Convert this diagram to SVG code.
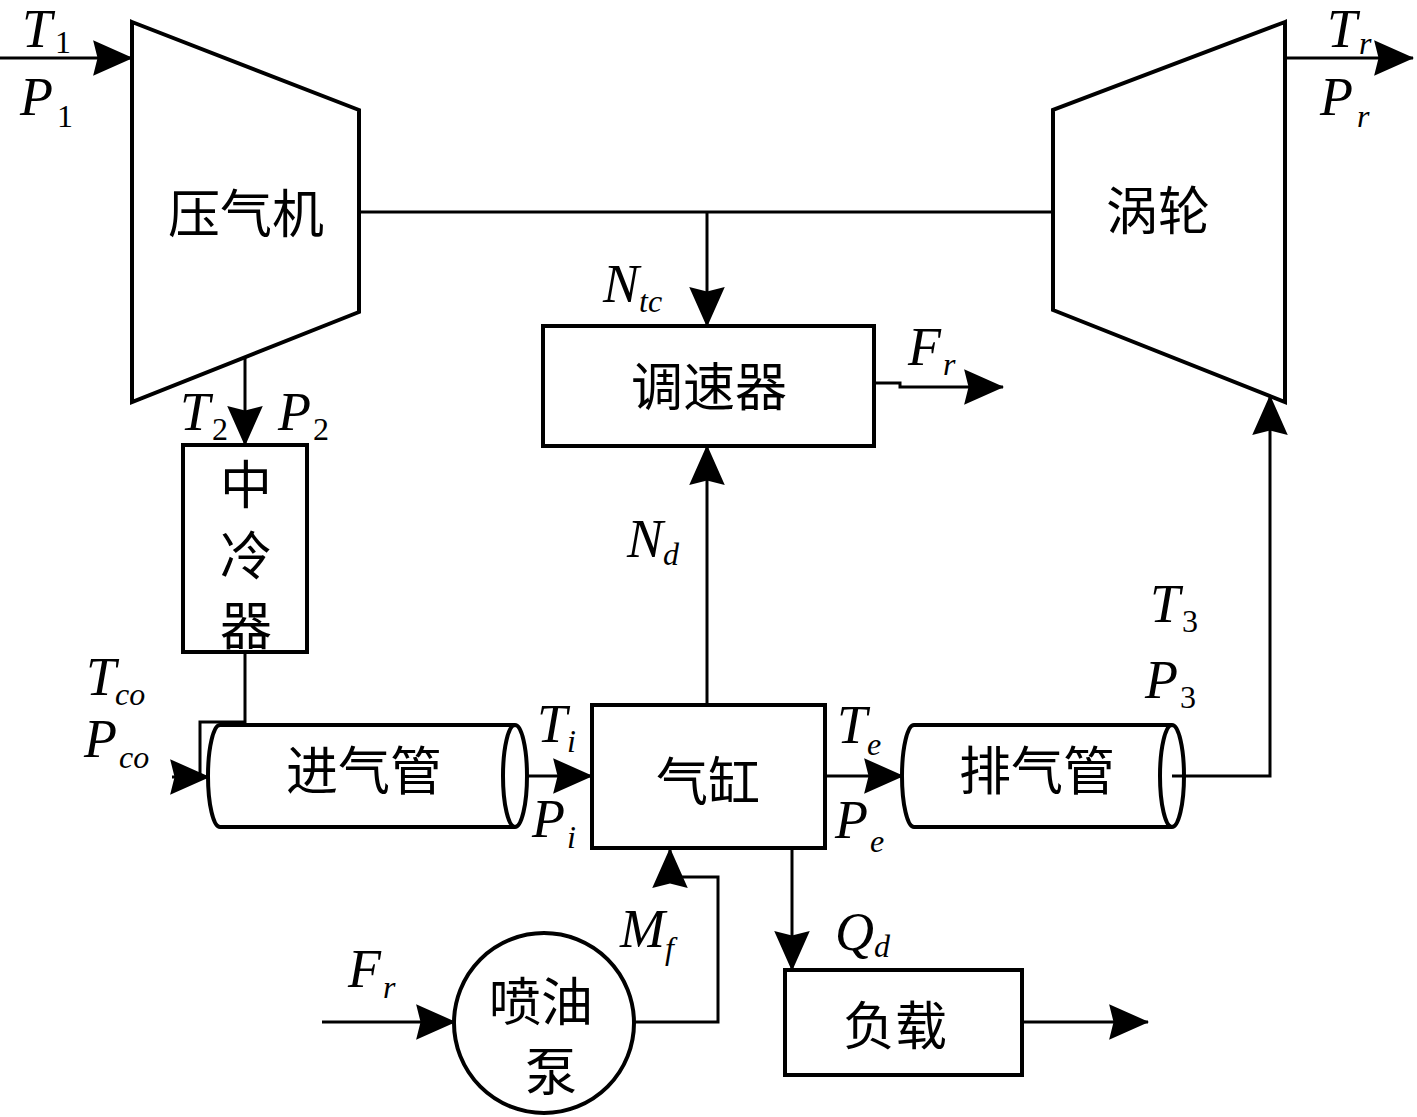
<svg xmlns="http://www.w3.org/2000/svg" width="1417" height="1117" viewBox="0 0 1417 1117">
<style>
.box{fill:none;stroke:#000;stroke-width:4;stroke-linejoin:miter}
.ln{fill:none;stroke:#000;stroke-width:3}
.cn{font-family:"Noto Sans CJK SC","Noto Sans CJK JP",sans-serif;font-size:52px;fill:#000;text-anchor:middle;dominant-baseline:central}
.v{font-family:"Liberation Serif","Times New Roman",serif;font-size:54px;font-style:italic;fill:#000}
.s{font-size:32px;font-style:normal}
.si{font-size:32px;font-style:italic}
</style>
<defs>
<marker id="ah" markerUnits="userSpaceOnUse" markerWidth="40" markerHeight="36" viewBox="0 0 36 32" refX="35" refY="16" orient="auto">
<path d="M0,0 L36,16 L0,32 L4,16 Z" fill="#000"/>
</marker>
</defs>
<rect width="1417" height="1117" fill="#fff"/>

<g id="compressor">
<polygon class="box" points="132,22 359,110 359,312 132,402"/>
<text class="cn" x="246" y="210">压气机</text>
</g>

<g id="turbine">
<polygon class="box" points="1285,22 1053,110 1053,310 1285,402"/>
<text class="cn" x="1158" y="207">涡轮</text>
</g>

<g id="intercooler">
<rect class="box" x="183" y="445" width="124" height="207"/>
<text class="cn" x="246" y="481">中</text>
<text class="cn" x="246" y="552">冷</text>
<text class="cn" x="246" y="622">器</text>
</g>

<g id="governor">
<rect class="box" x="543" y="326" width="331" height="120"/>
<text class="cn" x="709" y="383">调速器</text>
</g>

<g id="intake">
<path class="box" d="M220,725 H515 M220,827 H515 M220,725 A12,51 0 0 0 220,827"/>
<ellipse class="box" cx="515" cy="776" rx="12" ry="51"/>
<text class="cn" x="364" y="767">进气管</text>
</g>

<g id="cylinder">
<rect class="box" x="592" y="705" width="233" height="143"/>
<text class="cn" x="708" y="778">气缸</text>
</g>

<g id="exhaust">
<path class="box" d="M914,725 H1172 M914,827 H1172 M914,725 A12,51 0 0 0 914,827"/>
<ellipse class="box" cx="1172" cy="776" rx="12" ry="51"/>
<text class="cn" x="1037" y="767">排气管</text>
</g>

<g id="pump">
<circle class="box" cx="544" cy="1023" r="90"/>
<text class="cn" x="541" y="998">喷油</text>
<text class="cn" x="551" y="1068">泵</text>
</g>

<g id="load">
<rect class="box" x="785" y="970" width="237" height="105"/>
<text class="cn" x="895" y="1022">负载</text>
</g>

<g id="connectors">
<path class="ln" d="M0,58 H132" marker-end="url(#ah)"/>
<path class="ln" d="M1285,58 H1413" marker-end="url(#ah)"/>
<path class="ln" d="M359,212 H1053"/>
<path class="ln" d="M707,212 V326" marker-end="url(#ah)"/>
<path class="ln" d="M245,357 V445" marker-end="url(#ah)"/>
<path class="ln" d="M874,383 H900 V387 H1003" marker-end="url(#ah)"/>
<path class="ln" d="M707,705 V446" marker-end="url(#ah)"/>
<path class="ln" d="M245,652 V722 H200 V778"/>
<path class="ln" d="M172,777 H209" marker-end="url(#ah)"/>
<path class="ln" d="M527,776 H592" marker-end="url(#ah)"/>
<path class="ln" d="M825,776 H903" marker-end="url(#ah)"/>
<path class="ln" d="M1172,776 H1270 V396" marker-end="url(#ah)"/>
<path class="ln" d="M634,1022 H718 V877 H670 V849" marker-end="url(#ah)"/>
<path class="ln" d="M322,1022 H455" marker-end="url(#ah)"/>
<path class="ln" d="M792,848 V970" marker-end="url(#ah)"/>
<path class="ln" d="M1022,1022 H1148" marker-end="url(#ah)"/>
</g>

<g id="labels">
<text class="v" x="22" y="47" font-size="48">T<tspan class="s" dx="3" dy="6">1</tspan></text>
<text class="v" x="20" y="115">P<tspan class="s" dx="4" dy="12">1</tspan></text>
<text class="v" x="1327" y="47" font-size="48">T<tspan class="si" dx="2" dy="7">r</tspan></text>
<text class="v" x="1320" y="115">P<tspan class="si" dx="4" dy="12">r</tspan></text>
<text class="v" x="180" y="430">T<tspan class="s" dx="2" dy="10">2</tspan></text>
<text class="v" x="278" y="430">P<tspan class="s" dx="2" dy="10">2</tspan></text>
<text class="v" x="603" y="302">N<tspan class="si" dy="10">tc</tspan></text>
<text class="v" x="908" y="365">F<tspan class="si" dx="2" dy="10">r</tspan></text>
<text class="v" x="627" y="557">N<tspan class="si" dy="8">d</tspan></text>
<text class="v" x="1150" y="622">T<tspan class="s" dx="2" dy="10">3</tspan></text>
<text class="v" x="1145" y="698">P<tspan class="s" dx="2" dy="10">3</tspan></text>
<text class="v" x="86" y="695">T<tspan class="si" dx="-1" dy="10">co</tspan></text>
<text class="v" x="84" y="757">P<tspan class="si" dx="2" dy="11">co</tspan></text>
<text class="v" x="537" y="742">T<tspan class="si" dy="10">i</tspan></text>
<text class="v" x="532" y="837">P<tspan class="si" dx="2" dy="11">i</tspan></text>
<text class="v" x="837" y="743">T<tspan class="si" dy="12">e</tspan></text>
<text class="v" x="835" y="838">P<tspan class="si" dx="2" dy="14">e</tspan></text>
<text class="v" x="620" y="947">M<tspan class="si" dy="12">f</tspan></text>
<text class="v" x="348" y="987">F<tspan class="si" dx="2" dy="11">r</tspan></text>
<text class="v" x="835" y="950">Q<tspan class="si" dy="7">d</tspan></text>
</g>
</svg>
